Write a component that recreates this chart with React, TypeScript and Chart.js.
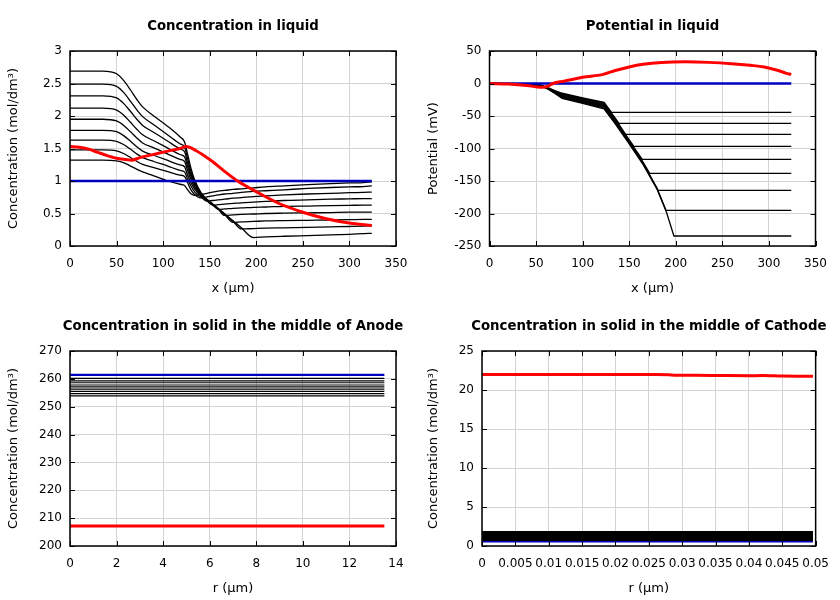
import React, { useEffect, useRef } from 'react';
import { Chart, registerables } from 'chart.js';
Chart.register(...registerables);

const FAMILY = '"DejaVu Sans", sans-serif';
const RED = '#ff0000';
const BLUE = '#0000c0';
const BLACK = '#000000';

// ---------- tick labels ----------
const xLiquidTicks = [0, 50, 100, 150, 200, 250, 300, 350];
const concLiquidTicks = [0, 0.5, 1, 1.5, 2, 2.5, 3];
const potTicks = [-250, -200, -150, -100, -50, 0, 50];
const rAnodeTicks = [0, 2, 4, 6, 8, 10, 12, 14];
const concAnodeTicks = [200, 210, 220, 230, 240, 250, 260, 270];
const rCathodeTicks = [0, 0.005, 0.01, 0.015, 0.02, 0.025, 0.03, 0.035, 0.04, 0.045, 0.05];
const concCathodeTicks = [0, 5, 10, 15, 20, 25];

// ---------- Concentration in liquid ----------
const liquidX = [0, 35, 50, 58, 65, 72, 78, 90, 105, 118, 123, 126, 130, 134, 141, 147, 153, 159, 166, 175, 184, 197, 210, 230, 255, 280, 300, 315, 324];
const liquidConcRuns = [
  [1.32, 1.32, 1.31, 1.28, 1.23, 1.18, 1.14, 1.08, 1.00, 0.95, 0.93, 0.87, 0.80, 0.78, 0.795, 0.81, 0.83, 0.845, 0.855, 0.87, 0.88, 0.895, 0.91, 0.925, 0.945, 0.96, 0.97, 0.975, 0.985],
  [1.48, 1.48, 1.464, 1.419, 1.361, 1.30, 1.255, 1.206, 1.144, 1.091, 1.07, 0.98, 0.86, 0.79, 0.74, 0.755, 0.77, 0.785, 0.80, 0.81, 0.825, 0.84, 0.85, 0.865, 0.885, 0.90, 0.91, 0.915, 0.925],
  [1.63, 1.63, 1.611, 1.557, 1.487, 1.414, 1.36, 1.30, 1.23, 1.164, 1.14, 1.04, 0.92, 0.83, 0.75, 0.69, 0.70, 0.71, 0.72, 0.735, 0.745, 0.76, 0.77, 0.785, 0.80, 0.81, 0.82, 0.825, 0.83],
  [1.78, 1.78, 1.758, 1.694, 1.61, 1.524, 1.46, 1.396, 1.316, 1.247, 1.22, 1.10, 0.97, 0.87, 0.765, 0.695, 0.63, 0.635, 0.645, 0.655, 0.665, 0.675, 0.685, 0.70, 0.71, 0.72, 0.725, 0.73, 0.73],
  [1.95, 1.95, 1.924, 1.851, 1.757, 1.658, 1.585, 1.509, 1.414, 1.332, 1.30, 1.17, 1.02, 0.90, 0.775, 0.70, 0.635, 0.565, 0.57, 0.58, 0.585, 0.595, 0.60, 0.61, 0.615, 0.62, 0.625, 0.63, 0.63],
  [2.12, 2.12, 2.091, 2.009, 1.903, 1.792, 1.71, 1.619, 1.506, 1.408, 1.37, 1.23, 1.06, 0.93, 0.785, 0.705, 0.64, 0.57, 0.47, 0.478, 0.485, 0.492, 0.50, 0.505, 0.51, 0.515, 0.52, 0.52, 0.52],
  [2.31, 2.31, 2.278, 2.187, 2.069, 1.946, 1.855, 1.747, 1.612, 1.495, 1.45, 1.29, 1.10, 0.96, 0.795, 0.71, 0.64, 0.57, 0.485, 0.365, 0.372, 0.378, 0.385, 0.39, 0.395, 0.40, 0.405, 0.41, 0.41],
  [2.49, 2.49, 2.455, 2.355, 2.225, 2.09, 1.99, 1.865, 1.708, 1.572, 1.52, 1.36, 1.14, 0.98, 0.805, 0.715, 0.645, 0.575, 0.49, 0.38, 0.262, 0.268, 0.274, 0.28, 0.288, 0.295, 0.30, 0.305, 0.31],
  [2.69, 2.69, 2.65, 2.54, 2.40, 2.25, 2.14, 2.00, 1.84, 1.68, 1.60, 1.43, 1.19, 1.01, 0.815, 0.72, 0.65, 0.58, 0.495, 0.39, 0.28, 0.13, 0.14, 0.15, 0.16, 0.17, 0.18, 0.19, 0.195],
];
const liquidInitialX = [0, 324];
const liquidConcInitial = [1, 1];
const liquidFinalX = [0, 10, 20, 30, 40, 50, 60, 66, 75, 90, 105, 118, 125, 135, 150, 165, 180, 200, 225, 250, 275, 300, 324];
const liquidConcFinal = [1.53, 1.52, 1.49, 1.44, 1.39, 1.35, 1.33, 1.32, 1.36, 1.41, 1.46, 1.50, 1.53, 1.47, 1.33, 1.16, 1.00, 0.835, 0.65, 0.52, 0.42, 0.355, 0.315];

// ---------- Potential in liquid ----------
const potRunsX = [
  [0, 40, 55, 62, 70, 78, 100, 123, 131, 324],
  [0, 40, 55, 62, 70, 78, 100, 123, 135, 139, 324],
  [0, 40, 55, 62, 70, 78, 100, 123, 135, 146, 324],
  [0, 40, 55, 62, 70, 78, 100, 123, 135, 150, 155, 324],
  [0, 40, 55, 62, 70, 78, 100, 123, 135, 150, 164, 324],
  [0, 40, 55, 62, 70, 78, 100, 123, 135, 150, 165, 172, 324],
  [0, 40, 55, 62, 70, 78, 100, 123, 135, 150, 165, 181, 324],
  [0, 40, 55, 62, 70, 78, 100, 123, 135, 150, 165, 180, 189.5, 324],
  [0, 40, 55, 62, 70, 78, 100, 123, 135, 150, 165, 180, 190, 198, 324],
];
const potRunsY = [
  [0, -1, -2.5, -6, -11, -15, -22, -29, -44.4, -44.4],
  [0, -1.06, -2.6, -6.25, -11.5, -16, -23, -30.25, -53.25, -61.3, -61.3],
  [0, -1.12, -2.75, -6.5, -12, -17, -24, -31.5, -54.5, -78.2, -78.2],
  [0, -1.19, -2.9, -6.75, -12.5, -18, -25.2, -32.75, -55.75, -86.75, -96.6, -96.6],
  [0, -1.25, -3.0, -7, -13, -19, -26.3, -34, -57, -88, -116.6, -116.6],
  [0, -1.31, -3.1, -7.25, -13.5, -20, -27.4, -35.25, -58.25, -89.25, -121.25, -138.2, -138.2],
  [0, -1.37, -3.25, -7.5, -14, -21, -28.4, -36.5, -59.5, -90.5, -122.5, -164.3, -164.3],
  [0, -1.44, -3.4, -7.75, -14.5, -22, -29.5, -37.75, -60.75, -91.75, -123.75, -161.75, -195.1, -195.1],
  [0, -1.5, -3.5, -8, -15, -23, -30.5, -39, -62, -93, -125, -163, -198, -234.6, -234.6],
];
const potInitialX = [0, 324];
const potInitial = [0, 0];
const potFinalX = [0, 20, 40, 50, 57, 63, 68, 80, 100, 122, 135, 150, 165, 185, 210, 235, 260, 280, 295, 310, 318, 324];
const potFinal = [0, -0.8, -3, -5, -5.9, -4, 0, 3.5, 9.5, 14, 20, 25.5, 29.5, 32.3, 33.3, 32.5, 30.5, 28, 25.5, 20, 16, 14];

// ---------- Anode solid ----------
const anodeR = [0, 13.5];
const anodeInitial = 261.4;
const anodeRuns = [260.2, 259.3, 258.6, 257.8, 257.1, 256.3, 255.5, 254.7, 253.9];
const anodeFinal = 207.2;

// ---------- Cathode solid ----------
const cathodeR = [0, 0.0496];
const cathodeInitial = 0.55;
const cathodeRuns = [1.8, 1.67, 1.54, 1.41, 1.28, 1.15, 1.02, 0.89, 0.76];
const cathodeFinalR = [0, 0.01, 0.02, 0.026, 0.028, 0.029, 0.032, 0.036, 0.04, 0.042, 0.045, 0.0496];
const cathodeFinal = [22.0, 22.0, 22.0, 22.0, 21.95, 21.88, 21.88, 21.85, 21.83, 21.85, 21.78, 21.75];

type Series = { xs: number[]; ys: number[]; color: string; width: number; smooth?: boolean };

const framePlugin = {
  id: 'gnuFrame',
  afterDatasetsDraw(chart: any, _args: any, opts: any) {
    const { ctx, chartArea } = chart;
    const { left, right, top, bottom } = chartArea;
    const xs = chart.scales.x;
    const ys = chart.scales.y;
    ctx.save();
    ctx.strokeStyle = '#000';
    ctx.lineWidth = 1;
    ctx.beginPath();
    xs.ticks.forEach((t: any) => {
      const p = Math.round(xs.getPixelForValue(t.value)) + 0.5;
      ctx.moveTo(p, bottom); ctx.lineTo(p, bottom - 5);
      ctx.moveTo(p, top); ctx.lineTo(p, top + 5);
    });
    ys.ticks.forEach((t: any) => {
      const p = Math.round(ys.getPixelForValue(t.value)) + 0.5;
      ctx.moveTo(left, p); ctx.lineTo(left + 5, p);
      ctx.moveTo(right, p); ctx.lineTo(right - 5, p);
    });
    ctx.stroke();
    ctx.lineWidth = 1.5;
    ctx.strokeRect(left, top, right - left, bottom - top);
    ctx.font = `bold 13.3px ${FAMILY}`;
    ctx.fillStyle = '#000';
    ctx.textAlign = 'center';
    ctx.textBaseline = 'alphabetic';
    ctx.fillText(opts.text, (left + right) / 2, 30);
    ctx.restore();
  },
};

type PanelProps = {
  left: number; top: number; title: string; xTitle: string; yTitle: string;
  xTicks: number[]; yTicks: number[]; areaLeft: number; areaRight: number; series: Series[];
};

function Panel(p: PanelProps) {
  const ref = useRef<HTMLCanvasElement>(null);
  useEffect(() => {
    const font = { family: FAMILY, size: 12 };
    const titleFont = { family: FAMILY, size: 13 };
    const chart = new Chart(ref.current as HTMLCanvasElement, {
      type: 'line',
      data: {
        datasets: p.series.map((s) => ({
          data: s.xs.map((x, i) => ({ x, y: s.ys[i] })),
          borderColor: s.color,
          backgroundColor: s.color,
          borderWidth: s.width,
          pointRadius: 0,
          fill: false,
          tension: s.smooth ? 0.4 : 0,
          cubicInterpolationMode: s.smooth ? 'monotone' : 'default',
        })),
      } as any,
      options: {
        animation: false,
        responsive: false,
        devicePixelRatio: 1,
        events: [],
        layout: { padding: { top: 51, left: 0, bottom: 0, right: 420 - p.areaRight } },
        plugins: {
          legend: { display: false },
          tooltip: { enabled: false },
          gnuFrame: { text: p.title },
        } as any,
        scales: {
          x: {
            type: 'linear',
            min: p.xTicks[0],
            max: p.xTicks[p.xTicks.length - 1],
            afterBuildTicks: (s: any) => { s.ticks = p.xTicks.map((v) => ({ value: v })); },
            afterFit: (s: any) => { s.height = 54; },
            grid: { color: '#d4d4d4', drawTicks: false, lineWidth: 1 },
            border: { display: false },
            ticks: { autoSkip: false, maxRotation: 0, minRotation: 0, padding: 11, color: '#000', font, callback: (v: any) => String(v) },
            title: { display: true, text: p.xTitle, color: '#000', font: titleFont, padding: { top: 0, bottom: 3.2 } },
          },
          y: {
            type: 'linear',
            min: p.yTicks[0],
            max: p.yTicks[p.yTicks.length - 1],
            afterBuildTicks: (s: any) => { s.ticks = p.yTicks.map((v) => ({ value: v })); },
            afterFit: (s: any) => { s.width = p.areaLeft; },
            grid: { color: '#d4d4d4', drawTicks: false, lineWidth: 1 },
            border: { display: false },
            ticks: { autoSkip: false, padding: 8, color: '#000', font, callback: (v: any) => String(v) },
            title: { display: true, text: p.yTitle, color: '#000', font: titleFont, padding: { top: 6.2, bottom: 0 } },
          },
        },
      } as any,
      plugins: [framePlugin as any],
    });
    return () => chart.destroy();
  }, []);
  return (
    <canvas
      ref={ref}
      width={420}
      height={300}
      style={{ position: 'absolute', left: p.left, top: p.top, width: 420, height: 300 }}
    />
  );
}

const concLabel = 'Concentration (mol/dm³)';

export default function App() {
  const liquidSeries: Series[] = [
    { xs: liquidFinalX, ys: liquidConcFinal, color: RED, width: 3, smooth: true },
    { xs: liquidInitialX, ys: liquidConcInitial, color: BLUE, width: 2.5 },
    ...liquidConcRuns.map((ys) => ({ xs: liquidX, ys, color: BLACK, width: 1.3, smooth: true })),
  ];
  const potSeries: Series[] = [
    { xs: potFinalX, ys: potFinal, color: RED, width: 3, smooth: true },
    { xs: potInitialX, ys: potInitial, color: BLUE, width: 2.5 },
    ...potRunsY.map((ys, i) => ({ xs: potRunsX[i], ys, color: BLACK, width: 1.3 })),
  ];
  const anodeSeries: Series[] = [
    { xs: anodeR, ys: [anodeFinal, anodeFinal], color: RED, width: 3 },
    { xs: anodeR, ys: [anodeInitial, anodeInitial], color: BLUE, width: 2.2 },
    ...anodeRuns.map((v) => ({ xs: anodeR, ys: [v, v], color: BLACK, width: 1.2 })),
  ];
  const cathodeSeries: Series[] = [
    { xs: cathodeFinalR, ys: cathodeFinal, color: RED, width: 3, smooth: true },
    ...cathodeRuns.map((v) => ({ xs: cathodeR, ys: [v, v], color: BLACK, width: 2 })),
    { xs: cathodeR, ys: [cathodeInitial, cathodeInitial], color: BLUE, width: 1.5 },
  ];
  return (
    <div style={{ position: 'fixed', left: 0, top: 0, width: 840, height: 600, background: '#fff' }}>
      <Panel left={0} top={0} title="Concentration in liquid" xTitle="x (µm)" yTitle={concLabel}
        xTicks={xLiquidTicks} yTicks={concLiquidTicks} areaLeft={70} areaRight={396} series={liquidSeries} />
      <Panel left={420} top={0} title="Potential in liquid" xTitle="x (µm)" yTitle="Potential (mV)"
        xTicks={xLiquidTicks} yTicks={potTicks} areaLeft={69.5} areaRight={395.5} series={potSeries} />
      <Panel left={0} top={300} title="Concentration in solid in the middle of Anode" xTitle="r (µm)" yTitle={concLabel}
        xTicks={rAnodeTicks} yTicks={concAnodeTicks} areaLeft={70} areaRight={396} series={anodeSeries} />
      <Panel left={420} top={300} title="Concentration in solid in the middle of Cathode" xTitle="r (µm)" yTitle={concLabel}
        xTicks={rCathodeTicks} yTicks={concCathodeTicks} areaLeft={62} areaRight={396.5} series={cathodeSeries} />
    </div>
  );
}
